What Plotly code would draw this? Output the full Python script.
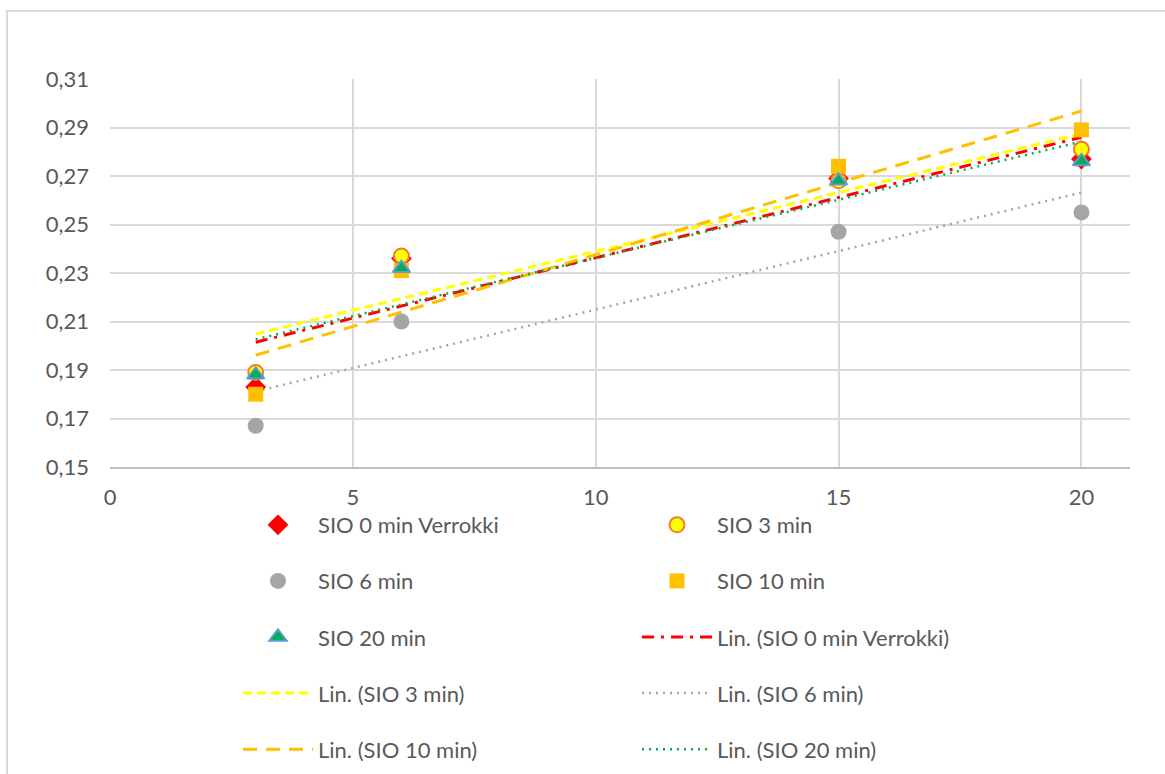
import numpy as np
import plotly.graph_objects as go

x_vals = [3, 6, 15, 20]
sio_0 = [0.183, 0.236, 0.269, 0.277]
sio_3 = [0.189, 0.237, 0.268, 0.281]
sio_6 = [0.167, 0.210, 0.247, 0.255]
sio_10 = [0.180, 0.231, 0.274, 0.289]
sio_20 = [0.188, 0.232, 0.268, 0.276]

names = ["SIO 0 min Verrokki", "SIO 3 min", "SIO 6 min", "SIO 10 min", "SIO 20 min"]
series = [sio_0, sio_3, sio_6, sio_10, sio_20]

y_ticks = [0.15, 0.17, 0.19, 0.21, 0.23, 0.25, 0.27, 0.29, 0.31]
x_ticks = [0, 5, 10, 15, 20]

W, H = 1165, 774
L, R, T, B = 110, 35, 79, 307
pw, ph = W - L - R, H - T - B

def px_to_paper_x(p):
    return (p - L) / pw

def px_to_paper_y(p):
    return (H - B - p) / ph

FONT = "Lato"
TXT = "#595959"

marker_styles = [
    dict(symbol="diamond", size=16, color="#FF0000", line=dict(width=0)),
    dict(symbol="circle", size=15, color="#FFFF00", line=dict(width=2, color="#ED7D31")),
    dict(symbol="circle", size=16, color="#A5A5A5", line=dict(width=0)),
    dict(symbol="square", size=15, color="#FFC000", line=dict(width=0)),
    dict(symbol="triangle-up", size=15, color="#00B050", line=dict(width=2, color="#5B9BD5")),
]
line_styles = [
    dict(color="#FF0000", width=3, dash="12px,7px,3px,7px"),
    dict(color="#FFFF00", width=3, dash="9px,5px"),
    dict(color="#A5A5A5", width=2.5, dash="2px,5px"),
    dict(color="#FFC000", width=3, dash="14px,9px"),
    dict(color="#00B050", width=2.5, dash="2px,5px"),
]

marker_legend = ["legend", "legend2", "legend", "legend2", "legend"]
line_legend = ["legend2", "legend", "legend2", "legend", "legend2"]

fig = go.Figure()

xs = np.array(x_vals, dtype=float)
line_traces = []
for i, (nm, ys) in enumerate(zip(names, series)):
    k, b = np.polyfit(xs, np.array(ys), 1)
    xl = np.array([xs.min(), xs.max()])
    line_traces.append(go.Scatter(
        x=xl, y=k * xl + b, mode="lines", name=f"Lin. ({nm})",
        line=line_styles[i], legend=line_legend[i], legendgroup=f"l{i}",
        legendrank=6 + i,
    ))

marker_traces = []
for i, (nm, ys) in enumerate(zip(names, series)):
    marker_traces.append(go.Scatter(
        x=x_vals, y=ys, mode="markers", name=nm,
        marker=marker_styles[i], legend=marker_legend[i], legendgroup=f"m{i}",
        legendrank=1 + i,
    ))

for tr in line_traces:
    fig.add_trace(tr)
for tr in marker_traces:
    fig.add_trace(tr)

legend_common = dict(
    font=dict(family=FONT, size=22, color=TXT),
    bgcolor="rgba(0,0,0,0)",
    traceorder="grouped",
    tracegroupgap=24.5,
    orientation="v",
    xanchor="left",
    yanchor="top",
    itemwidth=70,
)

fig.update_layout(
    width=W, height=H,
    margin=dict(l=L, r=R, t=T, b=B, autoexpand=False),
    paper_bgcolor="white",
    plot_bgcolor="white",
    separators=", ",
    font=dict(family=FONT, size=22, color=TXT),
    showlegend=True,
    legend=dict(legend_common, x=px_to_paper_x(238), y=px_to_paper_y(504)),
    legend2=dict(legend_common, x=px_to_paper_x(637), y=px_to_paper_y(504)),
    xaxis=dict(
        range=[0, 21], tickvals=x_ticks, showgrid=True, gridcolor="#D9D9D9", gridwidth=1.5,
        zeroline=False, showline=True, linecolor="#BFBFBF", linewidth=1.5,
        ticks="", ticklabelstandoff=10, tickfont=dict(family=FONT, size=22, color=TXT),
    ),
    yaxis=dict(
        range=[0.15, 0.31], tickvals=y_ticks, tickformat=".2f", showgrid=True,
        gridcolor="#D9D9D9", gridwidth=1.5, zeroline=False, showline=False,
        ticks="", ticklabelstandoff=20, tickfont=dict(family=FONT, size=22, color=TXT),
    ),
    shapes=[
        dict(
            type="rect", xref="paper", yref="paper",
            x0=px_to_paper_x(7), x1=px_to_paper_x(1180),
            y0=px_to_paper_y(790), y1=px_to_paper_y(11),
            line=dict(color="#D9D9D9", width=2), fillcolor="rgba(0,0,0,0)", layer="below",
        ),
    ],
)

fig.write_html("out.html", config={"displayModeBar": False},
               post_script="document.body.style.margin='0';document.body.style.overflow='hidden';")
